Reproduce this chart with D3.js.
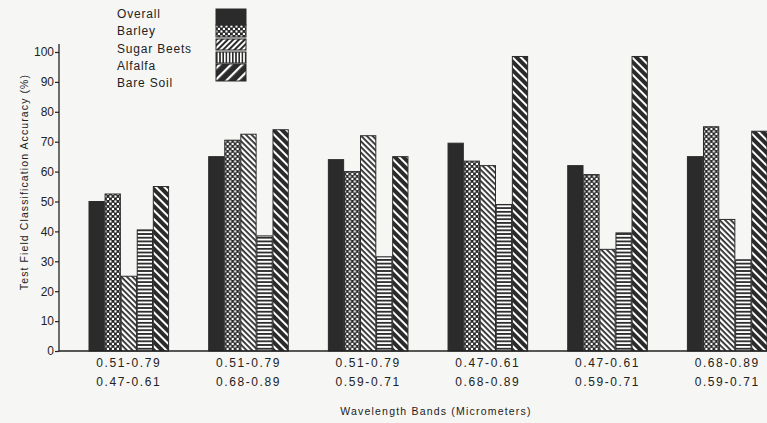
<!DOCTYPE html>
<html>
<head>
<meta charset="utf-8">
<script src="https://cdn.jsdelivr.net/npm/d3@7"></script>
<style>
  html, body { margin: 0; padding: 0; background: #f6f6f4; }
  svg { display: block; }
  text { font-family: "Liberation Sans", Arial, sans-serif; fill: #222; }
</style>
</head>
<body>
<div id="chart"></div>
<script>
"use strict";

// wavelength band pairs (two lines under each group)
const bandLine1 = ["0.51-0.79", "0.51-0.79", "0.51-0.79", "0.47-0.61", "0.47-0.61", "0.68-0.89"];
const bandLine2 = ["0.47-0.61", "0.68-0.89", "0.59-0.71", "0.68-0.89", "0.59-0.71", "0.59-0.71"];

const series = ["Overall", "Barley", "Sugar Beets", "Alfalfa", "Bare Soil"];

// accuracy values (%)
const overall    = [50,   65,   64,   69.5, 62,   65];
const barley     = [52.5, 70.5, 60,   63.5, 59,   75];
const sugarBeets = [25,   72.5, 72,   62,   34,   44];
const alfalfa    = [40.5, 38.5, 31.5, 49,   39.5, 30.5];
const bareSoil   = [55,   74,   65,   98.5, 98.5, 73.5];

const yTicks = [0, 10, 20, 30, 40, 50, 60, 70, 80, 90, 100];

const values = [overall, barley, sugarBeets, alfalfa, bareSoil];

const W = 767, H = 423;
const dark = "#2b2b2b";

const svg = d3.select("#chart").append("svg")
    .attr("width", W)
    .attr("height", H);

svg.append("rect").attr("width", W).attr("height", H).attr("fill", "#f6f6f4");

// ---- fill patterns ----
const defs = svg.append("defs");

function stripes(id, period, width, angle, bg, fg) {
    const p = defs.append("pattern")
        .attr("id", id)
        .attr("patternUnits", "userSpaceOnUse")
        .attr("width", period)
        .attr("height", period)
        .attr("patternTransform", "rotate(" + angle + ")");
    p.append("rect").attr("width", period).attr("height", period).attr("fill", bg);
    p.append("rect").attr("y", 0).attr("width", period).attr("height", width).attr("fill", fg);
}

// barley: checkerboard
const chk = defs.append("pattern")
    .attr("id", "barley")
    .attr("patternUnits", "userSpaceOnUse")
    .attr("width", 5).attr("height", 5);
chk.append("rect").attr("width", 5).attr("height", 5).attr("fill", dark);
chk.append("rect").attr("x", 0.4).attr("y", 0.4).attr("width", 2.1).attr("height", 2.1).attr("fill", "#fff");
chk.append("rect").attr("x", 2.9).attr("y", 2.9).attr("width", 2.1).attr("height", 2.1).attr("fill", "#fff");

// bars
stripes("beets", 4, 1.8, 45, "#fff", dark);
stripes("alfalfa", 3.7, 1.8, 0, "#fff", dark);
stripes("soil", 6, 2, 45, dark, "#fff");
// legend variants
stripes("beetsL", 4, 2, -45, "#fff", dark);
stripes("alfalfaL", 3.2, 1.6, 90, "#fff", dark);
stripes("soilL", 8, 2.2, -45, dark, "#fff");

const barFills = [dark, "url(#barley)", "url(#beets)", "url(#alfalfa)", "url(#soil)"];
const legendFills = [dark, "url(#barley)", "url(#beetsL)", "url(#alfalfaL)", "url(#soilL)"];

// ---- scales ----
const axisX = 59;
const y = d3.scaleLinear().domain([0, 100]).range([351, 52]);

const x0 = d3.scaleBand()
    .domain(d3.range(bandLine1.length))
    .range([89, 767])
    .paddingInner(0.335)
    .paddingOuter(0);

const x1 = d3.scaleBand()
    .domain(d3.range(series.length))
    .range([0, x0.bandwidth()])
    .paddingInner(0.05);

// ---- bars ----
const groups = svg.append("g").selectAll("g")
    .data(d3.range(bandLine1.length))
    .join("g")
    .attr("transform", g => "translate(" + x0(g) + ",0)");

groups.selectAll("rect")
    .data(g => values.map((vals, s) => ({ s: s, v: vals[g] })))
    .join("rect")
    .attr("x", d => x1(d.s))
    .attr("y", d => y(d.v))
    .attr("width", x1.bandwidth())
    .attr("height", d => y(0) - y(d.v))
    .attr("fill", d => barFills[d.s])
    .attr("stroke", dark)
    .attr("stroke-width", 1);

// ---- axes ----
const yAxis = svg.append("g")
    .attr("transform", "translate(" + axisX + ",0)")
    .call(d3.axisLeft(y).tickValues(yTicks).tickSize(4).tickPadding(1));
yAxis.select(".domain").remove();
yAxis.selectAll("line").attr("stroke", "#222").attr("stroke-width", 1.2);
yAxis.selectAll("text")
    .style("font-family", "'Liberation Sans', Arial, sans-serif")
    .style("font-size", "12px")
    .attr("fill", "#222");

svg.append("line")
    .attr("x1", axisX).attr("x2", axisX)
    .attr("y1", 44).attr("y2", y(0))
    .attr("stroke", "#222").attr("stroke-width", 1.3);

svg.append("line")
    .attr("x1", axisX).attr("x2", W)
    .attr("y1", y(0)).attr("y2", y(0))
    .attr("stroke", "#222").attr("stroke-width", 1.3);

// x category labels (two lines)
const xl = svg.append("g");
xl.selectAll("text.l1")
    .data(bandLine1)
    .join("text")
    .attr("class", "l1")
    .attr("x", (d, i) => x0(i) + x0.bandwidth() / 2)
    .attr("y", 367)
    .attr("text-anchor", "middle")
    .style("font-size", "12px")
    .style("letter-spacing", "1.6px")
    .text(d => d);
xl.selectAll("text.l2")
    .data(bandLine2)
    .join("text")
    .attr("class", "l2")
    .attr("x", (d, i) => x0(i) + x0.bandwidth() / 2)
    .attr("y", 386)
    .attr("text-anchor", "middle")
    .style("font-size", "12px")
    .style("letter-spacing", "1.6px")
    .text(d => d);

// axis titles
svg.append("text")
    .attr("x", 436)
    .attr("y", 415)
    .attr("text-anchor", "middle")
    .style("font-size", "10.5px")
    .style("letter-spacing", "1.2px")
    .text("Wavelength Bands (Micrometers)");

svg.append("text")
    .attr("transform", "translate(28,182) rotate(-90)")
    .attr("text-anchor", "middle")
    .style("font-size", "10.5px")
    .style("letter-spacing", "1.1px")
    .text("Test Field Classification Accuracy (%)");

// ---- legend ----
const legendTop = [9, 25, 39, 52, 64];
const legendBottom = [25, 37, 50, 63, 81];
const legendTextY = [18, 35, 53, 70, 87];

const lg = svg.append("g");
lg.selectAll("rect")
    .data(series)
    .join("rect")
    .attr("x", 216)
    .attr("y", (d, i) => legendTop[i])
    .attr("width", 30)
    .attr("height", (d, i) => legendBottom[i] - legendTop[i])
    .attr("fill", (d, i) => legendFills[i])
    .attr("stroke", dark)
    .attr("stroke-width", 1);
lg.selectAll("text")
    .data(series)
    .join("text")
    .attr("x", 117)
    .attr("y", (d, i) => legendTextY[i])
    .style("font-size", "12px")
    .style("letter-spacing", "0.8px")
    .text(d => d);
</script>
</body>
</html>
